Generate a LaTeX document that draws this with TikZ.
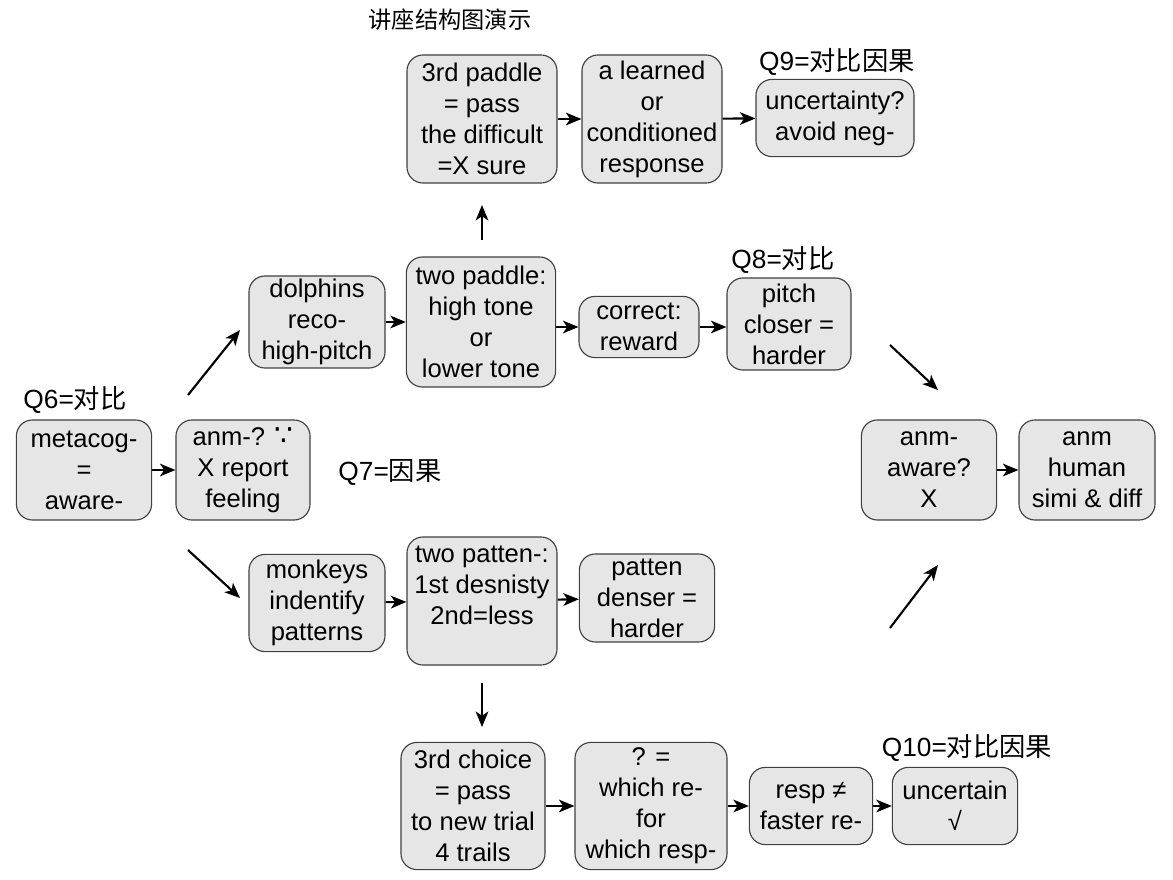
\documentclass[tikz,border=0pt]{standalone}
\usepackage{fontspec}
\setmainfont{Liberation Sans}
\newfontfamily\cjk{Noto Sans CJK SC}
\newfontfamily\symb{DejaVu Sans}
\usetikzlibrary{arrows.meta}
\definecolor{boxgray}{RGB}{230,230,230}

\begin{document}
\begin{tikzpicture}[
      x=0.025cm, y=-0.025cm,
      font=\fontsize{18.2}{22}\selectfont,
      box/.style={
        draw=black!75, line width=0.8pt, rounded corners=0.4cm,
        fill=boxgray, align=center, inner sep=2pt
      },
      qlabel/.style={inner sep=0pt, font=\fontsize{18.7}{22}\selectfont},
      arr/.style={-{Stealth[length=11pt,width=9pt,inset=3pt]}, line width=1.5pt}
    ]
    \useasboundingbox (0,0) rectangle (1173,880);

    \node[qlabel, font=\fontsize{16.5}{19}\selectfont\cjk] (title) at (450,20) {讲座结构图演示};

    % left part
    \node[box, minimum width=3.38cm, minimum height=2.5cm] (meta) at (84,470)
      {metacog-\\=\\aware-};
    \node[box, minimum width=3.35cm, minimum height=2.5cm] (anm) at (243,470)
      {anm-? {\symb\fontsize{21}{22}\selectfont ∵}\\X report\\feeling};
    \node[qlabel] (q6) at (75,400) {Q6={\cjk 对比}};
    \node[qlabel] (q7) at (390,472) {Q7={\cjk 因果}};

    % dolphins
    \node[box, minimum width=3.4cm, minimum height=2.3cm] (dolph) at (317,322)
      {dolphins\\reco-\\high-pitch};
    \node[box, minimum width=3.73cm, minimum height=3.25cm] (twopad) at (481,322)
      {two paddle:\\high tone\\or\\lower tone};
    \node[box, minimum width=3.0cm, minimum height=1.53cm] (correct) at (639,327)
      {correct:\\reward};
    \node[box, minimum width=3.1cm, minimum height=2.3cm] (pitch) at (789,324)
      {pitch\\closer =\\harder};
    \node[qlabel] (q8) at (783,260) {Q8={\cjk 对比}};

    \node[box, minimum width=3.75cm, minimum height=3.2cm] (thirdpad) at (482,119)
      {3rd paddle\\= pass\\the difficult\\=X sure};
    \node[box, minimum width=3.5cm, minimum height=3.2cm] (learned) at (652,119)
      {a learned\\or\\conditioned\\response};
    \node[box, minimum width=3.95cm, minimum height=1.93cm] (uncty) at (835,118)
      {uncertainty?\\avoid neg-};
    \node[qlabel] (q9) at (837,62) {Q9={\cjk 对比因果}};

    % monkeys
    \node[box, minimum width=3.4cm, minimum height=2.43cm] (monk) at (317,603)
      {monkeys\\indentify\\patterns};
    \node[box, minimum width=3.75cm, minimum height=3.2cm] (twopat) at (482,601)
      {two patten-:\\1st desnisty\\2nd=less\\\mbox{}};
    \node[box, minimum width=3.38cm, minimum height=2.2cm] (denser) at (647,598)
      {patten\\denser =\\harder};

    \node[box, minimum width=3.6cm, minimum height=3.18cm] (thirdch) at (473,806)
      {3rd choice\\= pass\\to new trial\\4 trails};
    \node[box, minimum width=3.8cm, minimum height=3.18cm] (which) at (651,806)
      {? =\\which re-\\for\\which resp-};
    \node[box, minimum width=3.08cm, minimum height=1.93cm] (resp) at (811,806)
      {resp ≠\\faster re-};
    \node[box, minimum width=3.13cm, minimum height=1.93cm] (uncert) at (955,806)
      {uncertain\\√};
    \node[qlabel] (q10) at (967,748) {Q10={\cjk 对比因果}};

    % right part
    \node[box, minimum width=3.38cm, minimum height=2.5cm] (aware) at (929,470)
      {anm-\\aware?\\X};
    \node[box, minimum width=3.4cm, minimum height=2.5cm] (human) at (1087,470)
      {anm\\human\\simi \& diff};

    % free arrow ends
    \coordinate (u1a) at (188,395);
    \coordinate (u1b) at (240,330);
    \coordinate (d1a) at (188,550);
    \coordinate (d1b) at (240,598);
    \coordinate (u2a) at (890,345);
    \coordinate (u2b) at (938,390);
    \coordinate (d2a) at (890,628);
    \coordinate (d2b) at (938,565);
    \coordinate (upa) at (482,240);
    \coordinate (upb) at (482,205);
    \coordinate (dna) at (482,683);
    \coordinate (dnb) at (482,727);

    \draw[arr] (meta) -- (anm);
    \draw[arr] (u1a) -- (u1b);
    \draw[arr] (d1a) -- (d1b);
    \draw[arr] (dolph) -- (twopad);
    \draw[arr] (twopad.east |- correct) -- (correct);
    \draw[arr] (correct) -- (pitch.west |- correct);
    \draw[arr] (upa) -- (upb);
    \draw[arr] (thirdpad) -- (learned);
    \draw[arr] (learned) -- (uncty);
    \draw[arr] (monk) -- (twopat);
    \draw[arr] (twopat) -- (denser);
    \draw[arr] (dna) -- (dnb);
    \draw[arr] (thirdch) -- (which);
    \draw[arr] (which) -- (resp);
    \draw[arr] (resp) -- (uncert);
    \draw[arr] (u2a) -- (u2b);
    \draw[arr] (d2a) -- (d2b);
    \draw[arr] (aware) -- (human);
  \end{tikzpicture}
\end{document}
